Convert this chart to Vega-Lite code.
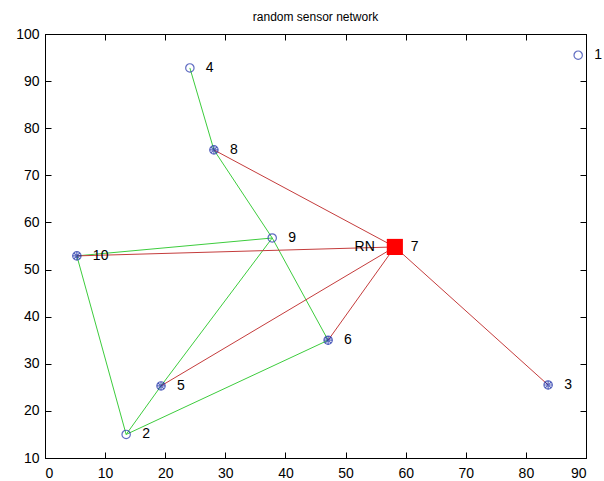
{
  "$schema": "https://vega.github.io/schema/vega-lite/v6.json",
  "width": 541,
  "height": 424,
  "autosize": {"type": "none"},
  "padding": {"left": 45, "top": 34, "right": 18, "bottom": 23},
  "background": "white",
  "title": {"text": "random sensor network", "fontSize": 12, "fontWeight": "normal", "font": "Liberation Sans", "color": "#000000", "offset": 3},
  "config": {
    "view": {"stroke": "#000000", "strokeWidth": 1},
    "axis": {"domainColor": "#000000", "tickColor": "#000000", "labelColor": "#000000", "labelFont": "Liberation Sans", "labelFontSize": 14, "grid": false, "ticks": true, "tickSize": -6, "tickWidth": 1, "title": null}
  },
  "datasets": {
    "nodes": [
      {"id": "1", "x": 88.7, "y": 95.5, "kind": "plain"},
      {"id": "2", "x": 13.5, "y": 15.0, "kind": "plain"},
      {"id": "3", "x": 83.7, "y": 25.5, "kind": "head"},
      {"id": "4", "x": 24.1, "y": 92.8, "kind": "plain"},
      {"id": "5", "x": 19.3, "y": 25.3, "kind": "head"},
      {"id": "6", "x": 47.1, "y": 35.0, "kind": "head"},
      {"id": "7", "x": 58.2, "y": 54.8, "kind": "sink"},
      {"id": "8", "x": 28.1, "y": 75.4, "kind": "head"},
      {"id": "9", "x": 37.8, "y": 56.7, "kind": "plain"},
      {"id": "10", "x": 5.3, "y": 52.9, "kind": "head"}
    ],
    "edges": [
      {"x": 24.1, "y": 92.8, "x2": 28.1, "y2": 75.4, "link": "member"},
      {"x": 28.1, "y": 75.4, "x2": 37.8, "y2": 56.7, "link": "member"},
      {"x": 37.8, "y": 56.7, "x2": 47.1, "y2": 35.0, "link": "member"},
      {"x": 37.8, "y": 56.7, "x2": 5.3, "y2": 52.9, "link": "member"},
      {"x": 5.3, "y": 52.9, "x2": 13.5, "y2": 15.0, "link": "member"},
      {"x": 13.5, "y": 15.0, "x2": 19.3, "y2": 25.3, "link": "member"},
      {"x": 19.3, "y": 25.3, "x2": 37.8, "y2": 56.7, "link": "member"},
      {"x": 13.5, "y": 15.0, "x2": 47.1, "y2": 35.0, "link": "member"},
      {"x": 28.1, "y": 75.4, "x2": 58.2, "y2": 54.8, "link": "sink"},
      {"x": 5.3, "y": 52.9, "x2": 58.2, "y2": 54.8, "link": "sink"},
      {"x": 19.3, "y": 25.3, "x2": 58.2, "y2": 54.8, "link": "sink"},
      {"x": 47.1, "y": 35.0, "x2": 58.2, "y2": 54.8, "link": "sink"},
      {"x": 83.7, "y": 25.5, "x2": 58.2, "y2": 54.8, "link": "sink"}
    ],
    "rn": [{"label": "RN", "x": 58.2, "y": 54.8}]
  },
  "layer": [
    {
      "data": {"name": "edges"},
      "mark": {"type": "rule", "strokeWidth": 1},
      "encoding": {
        "x": {"field": "x", "type": "quantitative", "scale": {"domain": [0, 90], "nice": false, "zero": false}, "axis": {"orient": "bottom", "values": [0,10,20,30,40,50,60,70,80,90], "labelPadding": 14}},
        "y": {"field": "y", "type": "quantitative", "scale": {"domain": [10, 100], "nice": false, "zero": false}, "axis": {"orient": "left", "values": [10,20,30,40,50,60,70,80,90,100], "labelPadding": 12}},
        "x2": {"field": "x2"},
        "y2": {"field": "y2"},
        "color": {"field": "link", "type": "nominal", "scale": {"domain": ["member", "sink"], "range": ["#3dcc3d", "#c43c3c"]}, "legend": null}
      }
    },
    {
      "data": {"name": "nodes"},
      "transform": [{"filter": "datum.kind !== 'sink'"}],
      "mark": {"type": "point", "shape": "circle", "filled": false, "stroke": "#1c2fa8", "strokeWidth": 1.2, "size": 70},
      "encoding": {
        "x": {"field": "x", "type": "quantitative", "axis": {"orient": "top", "values": [0,10,20,30,40,50,60,70,80,90], "labels": false}},
        "y": {"field": "y", "type": "quantitative", "axis": {"orient": "right", "values": [10,20,30,40,50,60,70,80,90,100], "labels": false}}
      }
    },
    {
      "data": {"name": "nodes"},
      "transform": [{"filter": "datum.kind === 'head'"}],
      "mark": {"type": "point", "shape": "M-1,0L1,0M0,-1L0,1M-0.7,-0.7L0.7,0.7M-0.7,0.7L0.7,-0.7", "filled": false, "stroke": "#1c2fa8", "strokeWidth": 1.2, "size": 70},
      "encoding": {
        "x": {"field": "x", "type": "quantitative", "axis": null},
        "y": {"field": "y", "type": "quantitative", "axis": null}
      }
    },
    {
      "data": {"name": "nodes"},
      "transform": [{"filter": "datum.kind === 'sink'"}],
      "mark": {"type": "point", "shape": "square", "filled": true, "color": "#ff0000", "opacity": 1, "size": 260},
      "encoding": {
        "x": {"field": "x", "type": "quantitative", "axis": null},
        "y": {"field": "y", "type": "quantitative", "axis": null}
      }
    },
    {
      "data": {"name": "nodes"},
      "mark": {"type": "text", "align": "left", "baseline": "middle", "dx": 16, "font": "Liberation Sans", "fontSize": 14, "color": "#000000"},
      "encoding": {
        "x": {"field": "x", "type": "quantitative", "axis": null},
        "y": {"field": "y", "type": "quantitative", "axis": null},
        "text": {"field": "id"}
      }
    },
    {
      "data": {"name": "rn"},
      "mark": {"type": "text", "align": "right", "baseline": "middle", "dx": -20, "font": "Liberation Sans", "fontSize": 14, "color": "#000000"},
      "encoding": {
        "x": {"field": "x", "type": "quantitative", "axis": null},
        "y": {"field": "y", "type": "quantitative", "axis": null},
        "text": {"field": "label"}
      }
    }
  ]
}
